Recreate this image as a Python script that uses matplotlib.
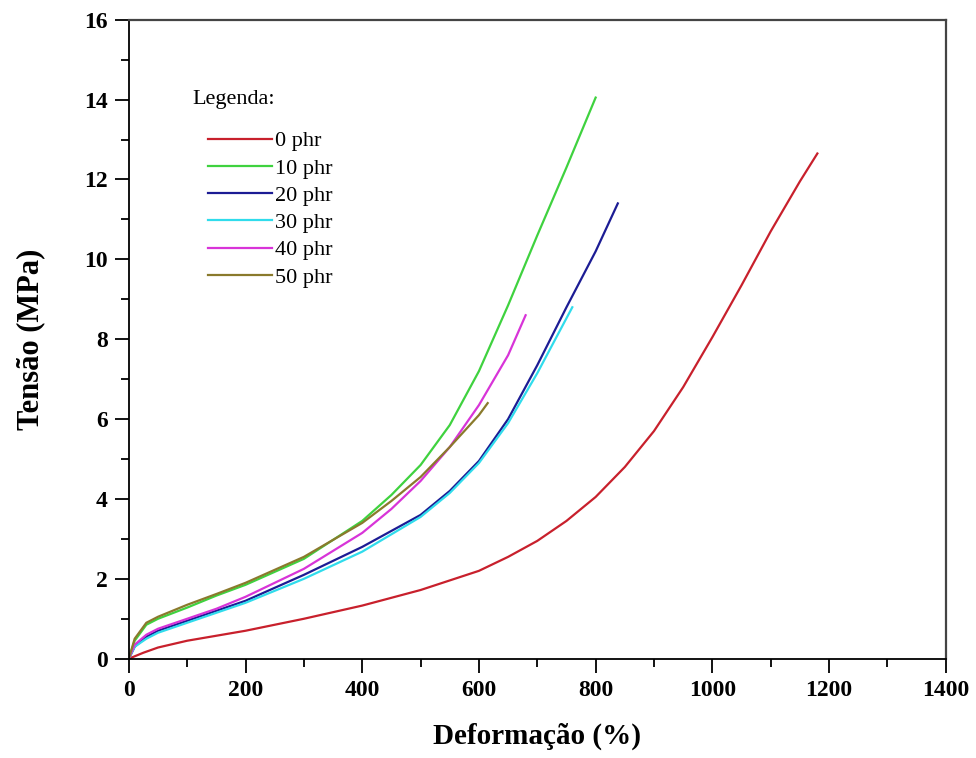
import matplotlib
matplotlib.use("Agg")
import matplotlib.pyplot as plt
from matplotlib.ticker import MultipleLocator

plt.rcParams['font.family'] = ['Liberation Serif', 'DejaVu Serif']

# stress-strain curves
labels = ["0 phr", "10 phr", "20 phr", "30 phr", "40 phr", "50 phr"]
colors = ["#c8202c", "#3fd23f", "#1c1c94", "#30dcec", "#d834d8", "#8a7a2c"]

x_0 = [0, 25, 50, 100, 200, 300, 400, 500, 550, 600, 650, 700, 750, 800,
       850, 900, 950, 1000, 1050, 1100, 1150, 1180]
y_0 = [0, 0.15, 0.28, 0.45, 0.7, 1.0, 1.33, 1.72, 1.96, 2.2, 2.55, 2.95, 3.45,
       4.05, 4.8, 5.7, 6.8, 8.05, 9.35, 10.7, 11.95, 12.65]

x_10 = [0, 10, 30, 50, 100, 150, 200, 300, 400, 450, 500, 550, 600, 650,
        700, 750, 800]
y_10 = [0, 0.45, 0.85, 1.0, 1.28, 1.58, 1.85, 2.5, 3.45, 4.1, 4.85, 5.85,
        7.2, 8.85, 10.6, 12.3, 14.05]

x_20 = [0, 10, 30, 50, 100, 150, 200, 300, 400, 500, 550, 600, 650, 700,
        750, 800, 838]
y_20 = [0, 0.3, 0.55, 0.7, 0.95, 1.2, 1.45, 2.1, 2.8, 3.6, 4.2, 4.95, 6.0,
        7.35, 8.8, 10.2, 11.4]

x_30 = [0, 10, 30, 50, 100, 150, 200, 300, 400, 500, 550, 600, 650, 700, 760]
y_30 = [0, 0.3, 0.5, 0.65, 0.9, 1.15, 1.4, 2.0, 2.68, 3.55, 4.15, 4.9, 5.9,
        7.15, 8.8]

x_40 = [0, 10, 30, 50, 100, 150, 200, 300, 400, 450, 500, 550, 600, 650, 680]
y_40 = [0, 0.35, 0.6, 0.75, 1.0, 1.25, 1.55, 2.25, 3.15, 3.75, 4.45, 5.3,
        6.35, 7.6, 8.6]

x_50 = [0, 10, 30, 50, 100, 150, 200, 300, 400, 450, 500, 550, 600, 615]
y_50 = [0, 0.5, 0.9, 1.05, 1.35, 1.62, 1.9, 2.55, 3.4, 3.95, 4.55, 5.3,
        6.1, 6.4]

xs = [x_0, x_10, x_20, x_30, x_40, x_50]
ys = [y_0, y_10, y_20, y_30, y_40, y_50]

fig = plt.figure(figsize=(9.76, 7.58), dpi=100)
ax = fig.add_axes([0.132, 0.131, 0.837, 0.843])

for x, y, c, lab in zip(xs, ys, colors, labels):
    ax.plot(x, y, color=c, lw=1.6, label=lab)

ax.set_xlim(0, 1400)
ax.set_ylim(0, 16)
ax.xaxis.set_major_locator(MultipleLocator(200))
ax.xaxis.set_minor_locator(MultipleLocator(100))
ax.yaxis.set_major_locator(MultipleLocator(2))
ax.yaxis.set_minor_locator(MultipleLocator(1))
ax.tick_params(which='major', direction='out', length=10, width=1.3,
               labelsize=17, pad=5)
ax.tick_params(which='minor', direction='out', length=6, width=1.3)
for lbl in ax.get_xticklabels() + ax.get_yticklabels():
    lbl.set_fontweight('bold')

for side in ['left', 'bottom']:
    ax.spines[side].set_linewidth(1.3)
for side in ['top', 'right']:
    ax.spines[side].set_linewidth(1.6)
    ax.spines[side].set_color('#444444')

ax.set_xlabel('Deformação (%)', fontsize=21, fontweight='bold', labelpad=16)
ax.set_ylabel('Tensão (MPa)', fontsize=22, fontweight='bold', labelpad=28)

# legend title is placed by hand, Origin puts it further up than the rows
ax.text(0.078, 0.875, 'Legenda:', transform=ax.transAxes, fontsize=16,
        va='center', ha='left')
leg = ax.legend(loc='upper left', bbox_to_anchor=(0.086, 0.84),
                frameon=False, fontsize=16, handlelength=2.9,
                handletextpad=0.1, labelspacing=0.3, borderaxespad=0)

fig.savefig('out.png', dpi=100)
